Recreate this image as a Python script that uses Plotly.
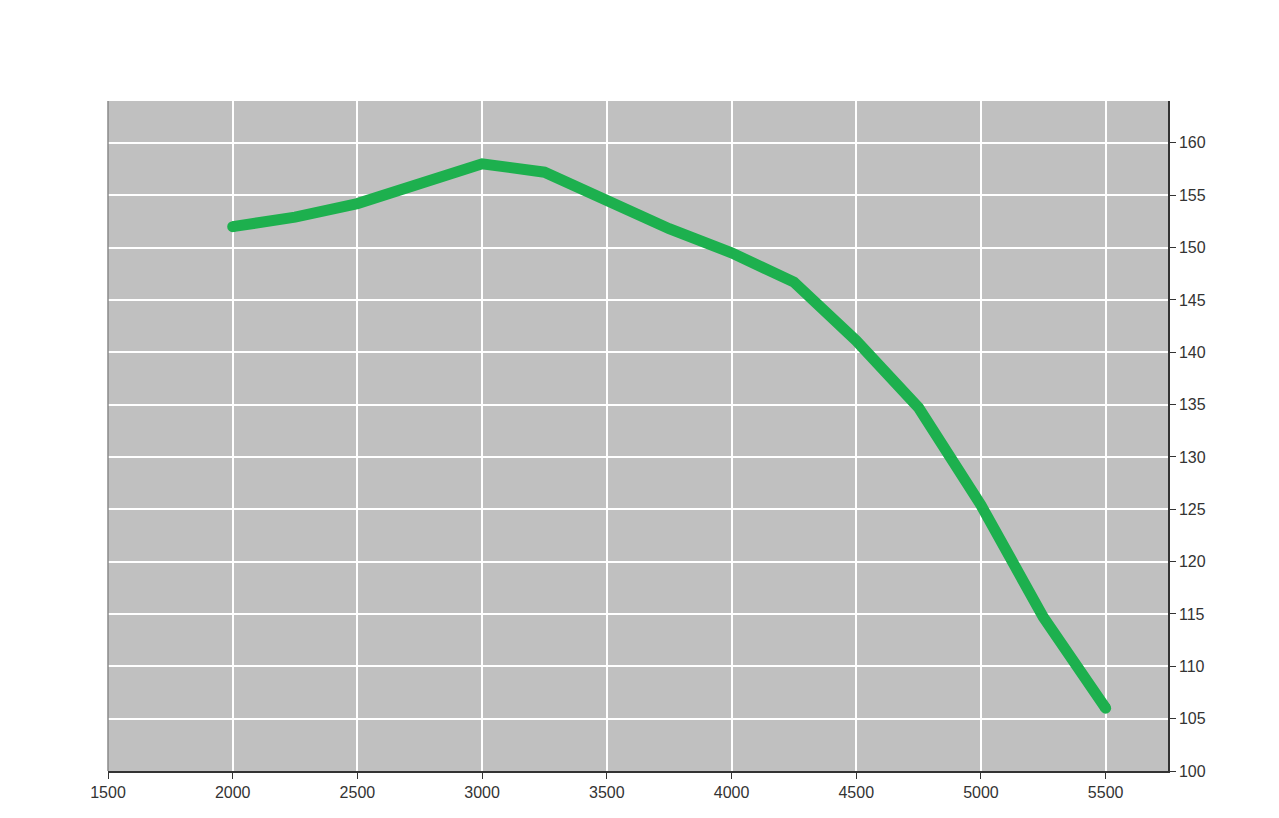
import plotly.graph_objects as go

rpm = [2000, 2250, 2500, 2750, 3000, 3250, 3500, 3750, 4000, 4250, 4500, 4750, 5000, 5250, 5500]
values = [152.0, 152.9, 154.2, 156.1, 158.0, 157.2, 154.5, 151.8, 149.5, 146.7, 141.1, 134.7, 125.4, 114.7, 106.0]

x_ticks = [1500, 2000, 2500, 3000, 3500, 4000, 4500, 5000, 5500]
y_ticks = [100, 105, 110, 115, 120, 125, 130, 135, 140, 145, 150, 155, 160]

GREEN = "#1db04e"

fig = go.Figure()
fig.add_trace(go.Scatter(
    x=rpm, y=values, mode="lines",
    line=dict(color=GREEN, width=11, shape="linear"),
    hoverinfo="x+y", showlegend=False,
))
# round end caps
fig.add_trace(go.Scatter(
    x=[rpm[0], rpm[-1]], y=[values[0], values[-1]], mode="markers",
    marker=dict(color=GREEN, size=11, line=dict(width=0)),
    hoverinfo="skip", showlegend=False,
))

fig.update_layout(
    width=1263, height=802,
    margin=dict(l=100, r=103, t=93, b=39, autoexpand=False),
    paper_bgcolor="white",
    plot_bgcolor="#c0c0c0",
    font=dict(family="Liberation Sans, Arial, sans-serif", size=16, color="#333333"),
    xaxis=dict(
        range=[1500, 5750], tickvals=x_ticks, ticktext=[str(t) for t in x_ticks],
        showgrid=True, gridcolor="white", gridwidth=1.5,
        showline=True, linecolor="#333333", linewidth=1.5,
        ticks="outside", ticklen=6, tickcolor="#333333", tickwidth=1,
        zeroline=False, fixedrange=True, automargin=False,
    ),
    yaxis=dict(
        range=[100, 164], tickvals=y_ticks, ticktext=[str(t) for t in y_ticks],
        side="right",
        showgrid=True, gridcolor="white", gridwidth=1.5,
        showline=True, linecolor="#333333", linewidth=1.5,
        ticks="outside", ticklen=6, tickcolor="#333333", tickwidth=1,
        zeroline=False, fixedrange=True, automargin=False,
    ),
    shapes=[dict(type="line", xref="paper", yref="paper", x0=0, x1=0, y0=0, y1=1,
                 line=dict(color="#8a8a8a", width=1.5))],
)

fig.write_html("out.html")
